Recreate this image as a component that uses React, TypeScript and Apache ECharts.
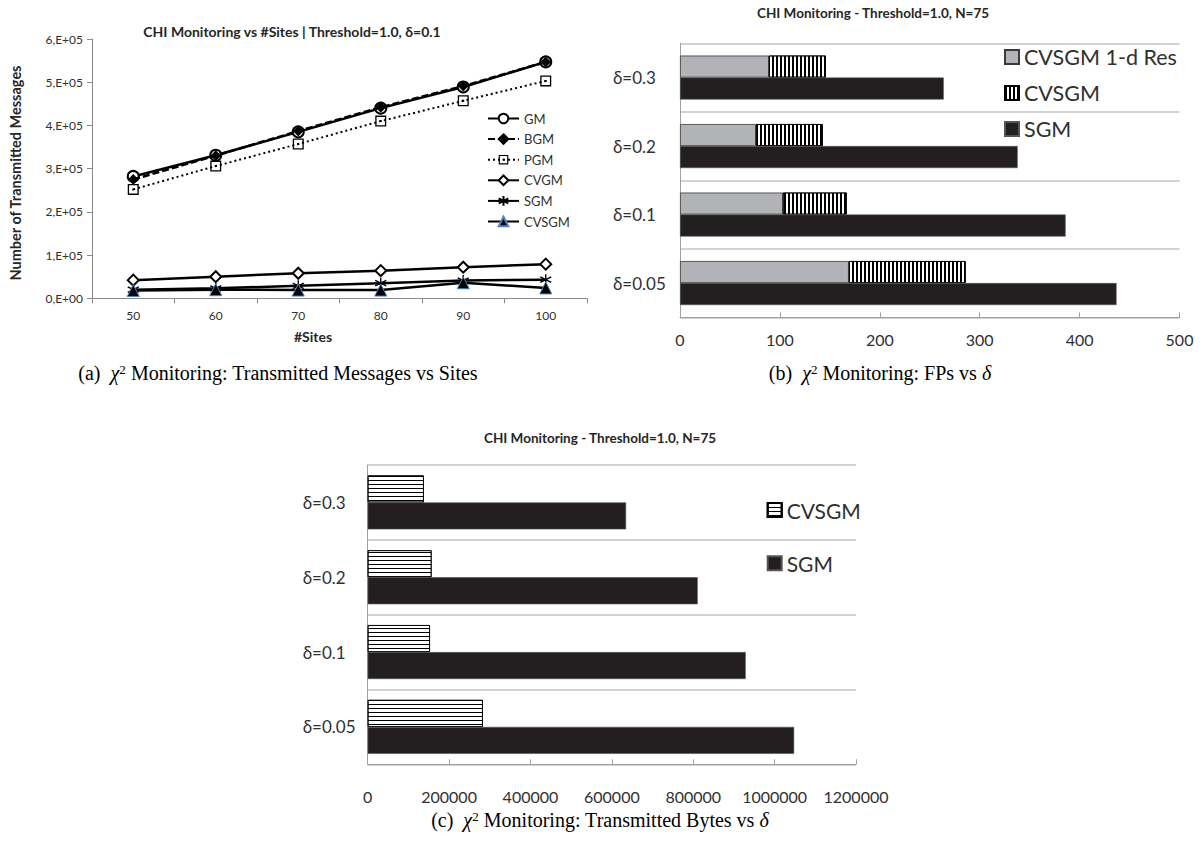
import React, { useEffect, useRef } from 'react';
import * as echarts from 'echarts';

// ---------- data ----------
const sites = ['50', '60', '70', '80', '90', '100'];
const gmMsgs = [282000, 331000, 385000, 440000, 489000, 547000];
const bgmMsgs = [275000, 330000, 387000, 442000, 491000, 547000];
const pgmMsgs = [252000, 306000, 357000, 410000, 457000, 503000];
const cvgmMsgs = [42000, 50000, 58000, 64000, 72000, 79000];
const sgmMsgs = [20000, 23000, 29000, 35000, 41000, 43000];
const cvsgmMsgs = [18000, 20000, 19000, 19000, 36000, 24000];

const deltas = ['δ=0.05', 'δ=0.1', 'δ=0.2', 'δ=0.3'];
const fpCvsgmRes = [169, 103, 76, 89];
const fpCvsgmExtra = [117, 64, 67, 57];
const fpSgm = [437, 386, 338, 264];

const bytesCvsgm = [283000, 153000, 157000, 138000];
const bytesSgm = [1048000, 929000, 811000, 635000];

// ---------- styles ----------
const FONT = 'Lato, "Open Sans", sans-serif';
const SERIF = '"Liberation Serif", "DejaVu Serif", serif';
const AXIS = '#a0a0a0';
const GRIDLINE = '#c4c4c4';
const TXT = '#303030';
const DARK = '#231f20';

const captionRich = {
  i: { fontFamily: SERIF, fontSize: 20, fontStyle: 'italic', fill: '#000', color: '#000' },
  s: { fontFamily: SERIF, fontSize: 13, verticalAlign: 'top', fill: '#000', color: '#000' },
};

function caption(x: number, y: number, text: string) {
  return {
    type: 'text',
    x,
    y,
    style: {
      text,
      rich: captionRich,
      fontFamily: SERIF,
      fontSize: 20,
      fill: '#000',
      textAlign: 'center',
      textVerticalAlign: 'middle',
    },
  };
}

const asterisk = 'path://M5,0 L5,10 M0.67,2.5 L9.33,7.5 M0.67,7.5 L9.33,2.5';
const dottedSquare =
  'path://M0,0 L10,0 L10,10 L0,10 Z M1.2,1.2 L1.2,8.8 L8.8,8.8 L8.8,1.2 Z M4.1,4.1 L5.9,4.1 L5.9,5.9 L4.1,5.9 Z';

function lineSeries(name: string, data: number[], symbol: string, extra: any = {}) {
  return {
    name,
    type: 'line',
    data,
    symbol,
    symbolSize: 10,
    xAxisIndex: 0,
    yAxisIndex: 0,
    lineStyle: { color: '#000', width: 2.5, type: 'solid', ...(extra.lineStyle || {}) },
    itemStyle: { color: '#000', borderColor: '#000', borderWidth: 1.2, ...(extra.itemStyle || {}) },
    ...(extra.rest || {}),
  };
}

const boldTitle = (size: number) => ({ fontFamily: FONT, fontWeight: 'bold', fontSize: size, color: '#262626' });

const optionA: any = {
  animation: false,
  title: {
    text: 'CHI Monitoring vs #Sites | Threshold=1.0, δ=0.1',
    left: 292,
    top: 31,
    padding: 0,
    textAlign: 'center',
    textVerticalAlign: 'middle',
    textStyle: boldTitle(14),
  },
  grid: { left: 92, top: 39, width: 495, height: 259.3 },
  xAxis: {
    type: 'category',
    data: sites,
    boundaryGap: true,
    axisLine: { lineStyle: { color: '#8a8a8a', width: 1 } },
    axisTick: { show: true, length: 5, lineStyle: { color: '#8a8a8a' } },
    axisLabel: { fontFamily: FONT, fontSize: 12, color: TXT, margin: 11 },
    splitLine: { show: false },
  },
  yAxis: {
    type: 'value',
    min: 0,
    max: 600000,
    interval: 100000,
    axisLine: { show: true, lineStyle: { color: '#8a8a8a', width: 1 } },
    axisTick: { show: true, length: 5, lineStyle: { color: '#8a8a8a' } },
    splitLine: { show: false },
    axisLabel: {
      fontFamily: FONT,
      fontSize: 12,
      color: TXT,
      margin: 9,
      formatter: (v: number) => `${v / 100000},E+${v === 0 ? '00' : '05'}`,
    },
  },
  legend: {
    orient: 'vertical',
    left: 487,
    top: 112,
    padding: 0,
    itemWidth: 31,
    itemHeight: 12,
    itemGap: 7.6,
    textStyle: { fontFamily: FONT, fontSize: 13, lineHeight: 13, color: TXT },
    data: ['GM', 'BGM', 'PGM', 'CVGM', 'SGM', 'CVSGM'],
  },
  graphic: [
    {
      type: 'text',
      x: 15,
      y: 173,
      rotation: Math.PI / 2,
      style: {
        text: 'Number of Transmitted Messages',
        fontFamily: FONT,
        fontWeight: 'bold',
        fontSize: 14.5,
        fill: '#262626',
        textAlign: 'center',
        textVerticalAlign: 'middle',
      },
    },
    {
      type: 'text',
      x: 313,
      y: 336,
      style: {
        text: '#Sites',
        fontFamily: FONT,
        fontWeight: 'bold',
        fontSize: 14,
        fill: '#262626',
        textAlign: 'center',
        textVerticalAlign: 'middle',
      },
    },
    caption(278, 373, '(a)  {i|χ}{s|2} Monitoring: Transmitted Messages vs Sites'),
  ],
  series: [
    lineSeries('GM', gmMsgs, 'emptyCircle', { rest: { symbolSize: 11, z: 3 } }),
    lineSeries('BGM', bgmMsgs, 'diamond', { lineStyle: { type: [7, 3] }, rest: { symbolSize: 9, z: 4 } }),
    lineSeries('PGM', pgmMsgs, dottedSquare, {
      lineStyle: { type: [2, 3], width: 2 },
      itemStyle: { borderWidth: 0 },
      rest: { symbolSize: 11 },
    }),
    lineSeries('CVGM', cvgmMsgs, 'emptyDiamond', { rest: { symbolSize: 11 } }),
    lineSeries('SGM', sgmMsgs, asterisk, { itemStyle: { borderWidth: 1.4 }, rest: { symbolSize: 11 } }),
    lineSeries('CVSGM', cvsgmMsgs, 'triangle', {
      itemStyle: { color: '#000', borderColor: '#4f81bd', borderWidth: 1 },
      rest: { symbolSize: 12 },
    }),
  ],
};

const vStripe = { symbol: 'rect', symbolSize: 1, color: '#000', dashArrayX: [2, 2], dashArrayY: [1, 0] };
const hStripe = { symbol: 'rect', symbolSize: 1, color: '#000', dashArrayX: [1, 0], dashArrayY: [1, 3] };

const catAxis = (margin: number) => ({
  type: 'category',
  data: deltas,
  axisLine: { show: true, lineStyle: { color: AXIS, width: 1 } },
  axisTick: { show: false },
  splitLine: { show: true, lineStyle: { color: GRIDLINE, width: 1.5 } },
  axisLabel: { fontFamily: FONT, fontSize: 17, color: TXT, align: 'left', margin },
});

const optionB: any = {
  animation: false,
  title: {
    text: 'CHI Monitoring - Threshold=1.0, N=75',
    left: 273,
    top: 13,
    padding: 0,
    textAlign: 'center',
    textVerticalAlign: 'middle',
    textStyle: boldTitle(13.5),
  },
  grid: { left: 80, top: 43.3, width: 499.5, height: 274 },
  xAxis: {
    type: 'value',
    min: 0,
    max: 500,
    interval: 100,
    axisLine: { show: true, lineStyle: { color: AXIS, width: 1 } },
    axisTick: { show: true, inside: true, length: 5, lineStyle: { color: AXIS } },
    splitLine: { show: false },
    axisLabel: { fontFamily: FONT, fontSize: 16, color: TXT, margin: 14 },
  },
  yAxis: catAxis(67),
  legend: {
    orient: 'vertical',
    left: 404,
    top: 46,
    padding: 0,
    itemWidth: 14,
    itemHeight: 14,
    itemGap: 14,
    icon: 'rect',
    textStyle: { fontFamily: FONT, fontSize: 21.5, lineHeight: 21, color: TXT },
    data: ['CVSGM 1-d Res', 'CVSGM', 'SGM'],
  },
  graphic: [caption(280, 373, '(b)  {i|χ}{s|2} Monitoring: FPs vs {i|δ}')],
  series: [
    {
      name: 'CVSGM 1-d Res',
      type: 'bar',
      stack: 'cv',
      data: fpCvsgmRes,
      barWidth: 22,
      barGap: '0%',
      itemStyle: { color: '#b2b3b6', borderColor: '#3a3a3a', borderWidth: 0.8 },
    },
    {
      name: 'CVSGM',
      type: 'bar',
      stack: 'cv',
      data: fpCvsgmExtra,
      barWidth: 22,
      barGap: '0%',
      itemStyle: { color: '#fff', borderColor: '#000', borderWidth: 0.8, decal: vStripe },
    },
    {
      name: 'SGM',
      type: 'bar',
      data: fpSgm,
      barWidth: 22,
      barGap: '0%',
      itemStyle: { color: DARK, borderColor: '#555', borderWidth: 0.6 },
    },
  ],
};

const optionC: any = {
  animation: false,
  title: {
    text: 'CHI Monitoring - Threshold=1.0, N=75',
    left: 600,
    top: 38,
    padding: 0,
    textAlign: 'center',
    textVerticalAlign: 'middle',
    textStyle: boldTitle(13.5),
  },
  grid: { left: 367.7, top: 65, width: 488.3, height: 299.3 },
  xAxis: {
    type: 'value',
    min: 0,
    max: 1200000,
    interval: 200000,
    axisLine: { show: true, lineStyle: { color: AXIS, width: 1 } },
    axisTick: { show: true, inside: true, length: 5, lineStyle: { color: AXIS } },
    splitLine: { show: false },
    axisLabel: { fontFamily: FONT, fontSize: 16, color: TXT, margin: 24, formatter: (v: number) => String(v) },
  },
  yAxis: catAxis(65),
  legend: {
    orient: 'vertical',
    left: 766.7,
    top: 99.5,
    padding: 0,
    itemWidth: 14,
    itemHeight: 14,
    itemGap: 32.3,
    icon: 'rect',
    textStyle: { fontFamily: FONT, fontSize: 21, lineHeight: 21, color: TXT },
    data: ['CVSGM', 'SGM'],
  },
  graphic: [caption(600, 420, '(c)  {i|χ}{s|2} Monitoring: Transmitted Bytes vs {i|δ}')],
  series: [
    {
      name: 'CVSGM',
      type: 'bar',
      data: bytesCvsgm,
      barWidth: 27,
      barGap: '0%',
      itemStyle: { color: '#fff', borderColor: '#000', borderWidth: 0.8, decal: hStripe },
    },
    {
      name: 'SGM',
      type: 'bar',
      data: bytesSgm,
      barWidth: 27,
      barGap: '0%',
      itemStyle: { color: DARK, borderColor: '#555', borderWidth: 0.6 },
    },
  ],
};

function ChartBox({ option, left, top, width, height }: any) {
  const ref = useRef<HTMLDivElement>(null);
  useEffect(() => {
    if (!ref.current) return;
    const chart = echarts.init(ref.current, null, { renderer: 'svg' });
    chart.setOption(option);
    return () => chart.dispose();
  }, [option]);
  return <div ref={ref} style={{ position: 'absolute', left, top, width, height }} />;
}

export default function App() {
  return (
    <div style={{ position: 'fixed', left: 0, top: 0, width: 1203, height: 841, background: '#fff' }}>
      <ChartBox option={optionA} left={0} top={0} width={600} height={400} />
      <ChartBox option={optionB} left={600} top={0} width={603} height={400} />
      <ChartBox option={optionC} left={0} top={400} width={1203} height={441} />
    </div>
  );
}
